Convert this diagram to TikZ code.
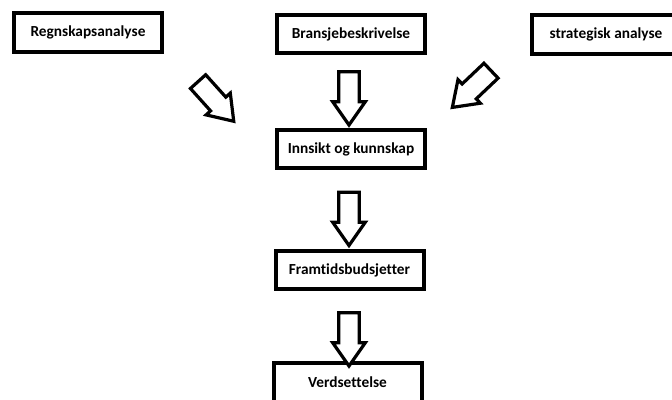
\documentclass[tikz,border=0pt]{standalone}
\usepackage{fontspec}
\setmainfont{Carlito}[Ligatures=CommonOff]
\usetikzlibrary{shapes.arrows}
\begin{document}
\begin{tikzpicture}[x=0.75pt,y=-0.75pt,inner sep=0pt,outer sep=0pt,
box/.style={draw,rectangle,line width=3pt,minimum width=111pt,minimum height=29pt,font=\fontsize{11.5}{13}\selectfont\bfseries},
bigarrow/.style={draw,fill=white,single arrow,line width=2.4pt,inner ysep=6.5pt,inner xsep=0pt,minimum height=40pt,single arrow head extend=4.5pt,single arrow tip angle=70}]
\useasboundingbox (0,0) rectangle (672,400);
\draw (88,32.5) node[box] (regn) {Regnskapsanalyse\hspace{8pt}};
\draw (351,34) node[box] (brans) {Bransjebeskrivelse};
\draw (606,34.5) node[box] (strat) {strategisk analyse};
\draw (351,149) node[box] (innsikt) {Innsikt og kunnskap};
\draw (349.5,270) node[box] (budsjett) {Framtidsbudsjetter};
\draw (347.5,382.5) node[box] (verdi) {Verdsettelse};
\draw (211,96) node[bigarrow,rotate=-48] (pil1) {};
\draw (349,91) node[bigarrow,rotate=-90] (pil2) {};
\draw (477,84) node[bigarrow,rotate=-136.5] (pil3) {};
\draw (349,211.5) node[bigarrow,rotate=-90] (pil4) {};
\draw (349,332) node[bigarrow,rotate=-90] (pil5) {};
\end{tikzpicture}
\end{document}
